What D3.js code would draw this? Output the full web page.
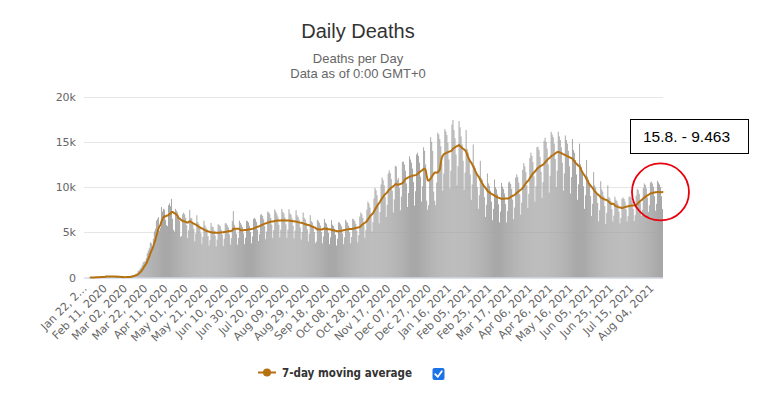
<!DOCTYPE html>
<html>
<head>
<meta charset="utf-8">
<script src="https://cdn.jsdelivr.net/npm/d3@7"></script>
<style>
  html, body { margin: 0; padding: 0; background: #fff; }
  svg { display: block; }
</style>
</head>
<body>
<svg id="chart" width="761" height="398"></svg>
<script>
// ---------------- DATA ----------------
const startDate = "2020-01-22";           // first category (daily)
const lastLabelDate = "15.8.";            // label used in the annotation box
const tickLabels = ["Jan 22, 2…","Feb 11, 2020","Mar 02, 2020","Mar 22, 2020","Apr 11, 2020","May 01, 2020",
  "May 21, 2020","Jun 10, 2020","Jun 30, 2020","Jul 20, 2020","Aug 09, 2020","Aug 29, 2020","Sep 18, 2020",
  "Oct 08, 2020","Oct 28, 2020","Nov 17, 2020","Dec 07, 2020","Dec 27, 2020","Jan 16, 2021","Feb 05, 2021",
  "Feb 25, 2021","Mar 17, 2021","Apr 06, 2021","Apr 26, 2021","May 16, 2021","Jun 05, 2021","Jun 25, 2021",
  "Jul 15, 2021","Aug 04, 2021"];
const tickEvery = 20;
const yTicks = [0, 5000, 10000, 15000, 20000];
const yTickLabels = ["0", "5k", "10k", "15k", "20k"];

// daily deaths, one row per week (Wed..Tue), Jan 22 2020 – Aug 15 2021
const dailyDeaths = [
  17, 8, 16, 15, 24, 26, 26,
  38, 43, 46, 45, 57, 64, 66,
  73, 73, 86, 89, 97, 108, 97,
  254, 121, 143, 142, 106, 98, 139,
  115, 125, 111, 97, 150, 71, 64,
  37, 58, 67, 72, 69, 77, 76,
  97, 96, 105, 102, 218, 206, 284,
  318, 340, 448, 424, 757, 826, 1010,
  1150, 1400, 1700, 1780, 1800, 2150, 2700,
  3000, 3250, 3900, 3800, 3500, 4300, 5100,
  5400, 6300, 6500, 6700, 5200, 5500, 7800,
  7300, 7600, 7500, 6400, 5800, 5700, 8000,
  8200, 7900, 8700, 6500, 5300, 5100, 7600,
  7400, 7200, 6800, 6300, 4500, 4600, 7000,
  7180, 6990, 6610, 5800, 4370, 5240, 7490,
  6600, 6550, 6100, 5400, 4000, 4900, 6900,
  6150, 5900, 5650, 4900, 3700, 4500, 6300,
  5800, 5550, 5350, 4600, 3550, 4150, 6050,
  5650, 5600, 5200, 4650, 3450, 4200, 5900,
  5800, 5700, 5300, 4750, 3500, 4300, 6000,
  6000, 5800, 5550, 4800, 3650, 4350, 6250,
  7350, 5850, 5500, 4850, 3650, 4400, 6300,
  6050, 5850, 5600, 4900, 3700, 4400, 6300,
  6250, 6100, 5700, 5050, 3800, 4550, 6500,
  6600, 6450, 6150, 5300, 4050, 4800, 6950,
  7000, 6800, 6450, 5700, 4250, 5100, 7300,
  7200, 7050, 6600, 5850, 4400, 5250, 7550,
  7300, 7050, 6750, 5850, 4450, 5300, 7600,
  7250, 7100, 6650, 5900, 4400, 5300, 7550,
  7100, 6950, 6550, 5750, 4350, 5200, 7450,
  6900, 6700, 6400, 5550, 4200, 5050, 7200,
  6600, 6450, 6050, 5350, 4000, 4850, 6900,
  6250, 6100, 5750, 5050, 3800, 4000, 6400,
  6250, 6050, 5750, 5050, 3800, 4550, 6500,
  6100, 5950, 5600, 4950, 3700, 4450, 6350,
  5850, 5700, 5400, 4750, 3550, 4300, 6100,
  6100, 5900, 5650, 4900, 3700, 4450, 6400,
  6200, 6050, 5750, 5000, 3800, 4500, 6500,
  6450, 6250, 5950, 5200, 3900, 4700, 6750,
  7200, 7000, 6600, 5800, 4400, 5250, 7500,
  8400, 8200, 7750, 6800, 5100, 6150, 8750,
  9900, 9650, 9100, 8000, 6000, 7250, 10300,
  11050, 10750, 10200, 8900, 6700, 8050, 11500,
  11850, 11550, 10900, 9600, 7200, 8650, 12350,
  12250, 10800, 11000, 9900, 7450, 8950, 12800,
  12800, 12500, 11800, 10400, 7800, 9350, 13400,
  13050, 12700, 12050, 10550, 7950, 9550, 13600,
  13800, 13450, 12700, 11150, 8400, 10100, 14400,
  14000, 12500, 8500, 7500, 8000, 10800, 15500,
  15000, 14000, 9500, 8500, 8000, 10500, 16000,
  15800, 15300, 14500, 12700, 9600, 11500, 16400,
  16150, 15750, 14900, 13050, 9850, 11800, 16900,
  17400, 16300, 15400, 13600, 10200, 12300, 17300,
  16600, 15600, 14700, 12900, 9700, 11600, 16300,
  14200, 13800, 13000, 11400, 8600, 10300, 14700,
  12400, 12100, 11400, 10000, 7600, 9100, 12900,
  11000, 10800, 10150, 8900, 6700, 8050, 11500,
  10400, 10150, 9600, 8400, 6350, 7600, 10850,
  10000, 9750, 9200, 8100, 6100, 7300, 10450,
  10050, 9800, 9300, 8150, 6100, 7350, 10500,
  10600, 10350, 9800, 8600, 6450, 7750, 11050,
  11400, 11100, 10500, 9200, 6950, 8300, 11900,
  12650, 12300, 11650, 10200, 7700, 9250, 13200,
  13800, 13450, 12750, 11200, 8400, 10100, 14400,
  14450, 14100, 13350, 11700, 8800, 10550, 15100,
  15450, 15000, 14250, 12500, 9400, 11250, 16100,
  15800, 15500, 14800, 13100, 10000, 11800, 16100,
  15600, 15200, 14400, 12700, 9600, 11500, 15700,
  15200, 14800, 14000, 12300, 9300, 11100, 15300,
  14100, 13800, 13000, 11400, 8600, 10300, 14800,
  12500, 12200, 11500, 10100, 7600, 9100, 13000,
  11150, 10850, 10300, 9000, 6800, 8150, 11650,
  10200, 9950, 9400, 8250, 6200, 7450, 10650,
  9750, 9500, 9000, 7900, 5950, 7150, 10200,
  8900, 8750, 8450, 7550, 6200, 6850, 8950,
  8600, 8450, 8150, 7300, 6000, 6600, 8700,
  8850, 8700, 8400, 7550, 6200, 6800, 8950,
  8950, 8800, 8500, 7600, 6250, 6900, 9050,
  9800, 9650, 9250, 8300, 6850, 7500, 9900,
  10400, 10250, 9850, 8850, 7250, 8000, 10500,
  10600, 10400, 10050, 9000, 7400, 8150, 10700,
  10500, 10300, 10000, 9000, 7591
];
const maWindow = 7;

// ---------------- CHART ----------------
const svg = d3.select("#chart");
const n = dailyDeaths.length;
const idx = d3.range(n);
const plot = { left: 84, right: 663, top: 96.5, bottom: 277.7 };

const x = d3.scaleBand().domain(idx).range([plot.left, plot.right]).paddingInner(0.08).paddingOuter(0.04);
const y = d3.scaleLinear().domain([0, 20000]).range([plot.bottom, plot.top]);

// 7-day moving average
const ma = idx.map(i => i < maWindow - 1 ? null : d3.mean(dailyDeaths.slice(i - maWindow + 1, i + 1)));

// gridlines
svg.append("g").selectAll("line").data(yTicks.filter(t => t > 0)).join("line")
  .attr("x1", plot.left).attr("x2", plot.right)
  .attr("y1", d => Math.round(y(d)) + 0.5).attr("y2", d => Math.round(y(d)) + 0.5)
  .attr("stroke", "#e6e6e6").attr("stroke-width", 1);

// y labels
svg.append("g").selectAll("text").data(yTicks).join("text")
  .attr("x", 76).attr("y", d => y(d) + 4)
  .attr("text-anchor", "end")
  .attr("font-family", "DejaVu Sans, Verdana, sans-serif").attr("font-size", 11)
  .attr("fill", "#666")
  .text((d, i) => yTickLabels[i]);

// bars
svg.append("g").selectAll("rect").data(idx).join("rect")
  .attr("x", i => x(i)).attr("width", x.bandwidth())
  .attr("y", i => y(dailyDeaths[i])).attr("height", i => y(0) - y(dailyDeaths[i]))
  .attr("fill", "#a2a2a2");

// x axis line
svg.append("line").attr("x1", plot.left).attr("x2", plot.right)
  .attr("y1", 278.2).attr("y2", 278.2).attr("stroke", "#ccd6eb").attr("stroke-width", 1);

// x labels (every 20 days)
svg.append("g").selectAll("text").data(tickLabels).join("text")
  .attr("transform", (d, k) => {
    const cx = x(k * tickEvery) + x.bandwidth() / 2;
    return `translate(${cx + 3},${289}) rotate(-45)`;
  })
  .attr("text-anchor", "end")
  .attr("font-family", "DejaVu Sans, Verdana, sans-serif").attr("font-size", 11)
  .attr("fill", "#666")
  .text(d => d);

// moving average line
const lineColor = "#b5700f";
const line = d3.line()
  .defined(d => d != null)
  .x((d, i) => x(i) + x.bandwidth() / 2)
  .y(d => y(d));
svg.append("path").datum(ma).attr("d", line)
  .attr("fill", "none").attr("stroke", lineColor).attr("stroke-width", 2)
  .attr("stroke-linejoin", "round").attr("stroke-linecap", "round");

// titles
svg.append("text").attr("x", 358).attr("y", 38).attr("text-anchor", "middle")
  .attr("font-family", "Liberation Sans Narrow, Liberation Sans, Arial, sans-serif").attr("font-size", 20)
  .attr("fill", "#333").text("Daily Deaths");
svg.append("text").attr("x", 358).attr("y", 63).attr("text-anchor", "middle")
  .attr("font-family", "Liberation Sans Narrow, Liberation Sans, Arial, sans-serif").attr("font-size", 13)
  .attr("fill", "#666").text("Deaths per Day");
svg.append("text").attr("x", 358).attr("y", 78).attr("text-anchor", "middle")
  .attr("font-family", "Liberation Sans Narrow, Liberation Sans, Arial, sans-serif").attr("font-size", 13)
  .attr("fill", "#666").text("Data as of 0:00 GMT+0");

// legend
const lg = svg.append("g");
lg.append("line").attr("x1", 258).attr("x2", 276).attr("y1", 372.5).attr("y2", 372.5)
  .attr("stroke", lineColor).attr("stroke-width", 2);
lg.append("circle").attr("cx", 267).attr("cy", 372.5).attr("r", 4).attr("fill", lineColor);
lg.append("text").attr("x", 282).attr("y", 376.5)
  .attr("font-family", "DejaVu Sans, Verdana, sans-serif").attr("font-size", 12).attr("font-weight", "bold")
  .attr("fill", "#333").attr("textLength", 130).attr("lengthAdjust", "spacingAndGlyphs")
  .text("7-day moving average");
// checkbox
lg.append("rect").attr("x", 432.5).attr("y", 368).attr("width", 12).attr("height", 12).attr("rx", 2)
  .attr("fill", "#1a73e8");
lg.append("path").attr("d", "M435.2,374.2 L437.8,376.8 L441.8,371.2")
  .attr("fill", "none").attr("stroke", "#fff").attr("stroke-width", 1.8)
  .attr("stroke-linecap", "round").attr("stroke-linejoin", "round");

// annotation
const fmt = d3.formatLocale({ decimal: ",", thousands: ".", grouping: [3], currency: ["", ""] }).format(",");
const lastMA = ma[n - 1];
svg.append("rect").attr("x", 630.5).attr("y", 119.5).attr("width", 118).attr("height", 34)
  .attr("fill", "#fff").attr("stroke", "#000").attr("stroke-width", 1);
svg.append("text").attr("x", 643).attr("y", 142)
  .attr("font-family", "Liberation Sans, Arial, sans-serif").attr("font-size", 15.5)
  .attr("fill", "#000").text(`${lastLabelDate} - ${fmt(Math.round(lastMA))}`);
const lastX = x(n - 3) + x.bandwidth() / 2;
svg.append("circle").attr("cx", lastX).attr("cy", y(lastMA)).attr("r", 28.5)
  .attr("fill", "none").attr("stroke", "#e8000b").attr("stroke-width", 1.8);
</script>
</body>
</html>
